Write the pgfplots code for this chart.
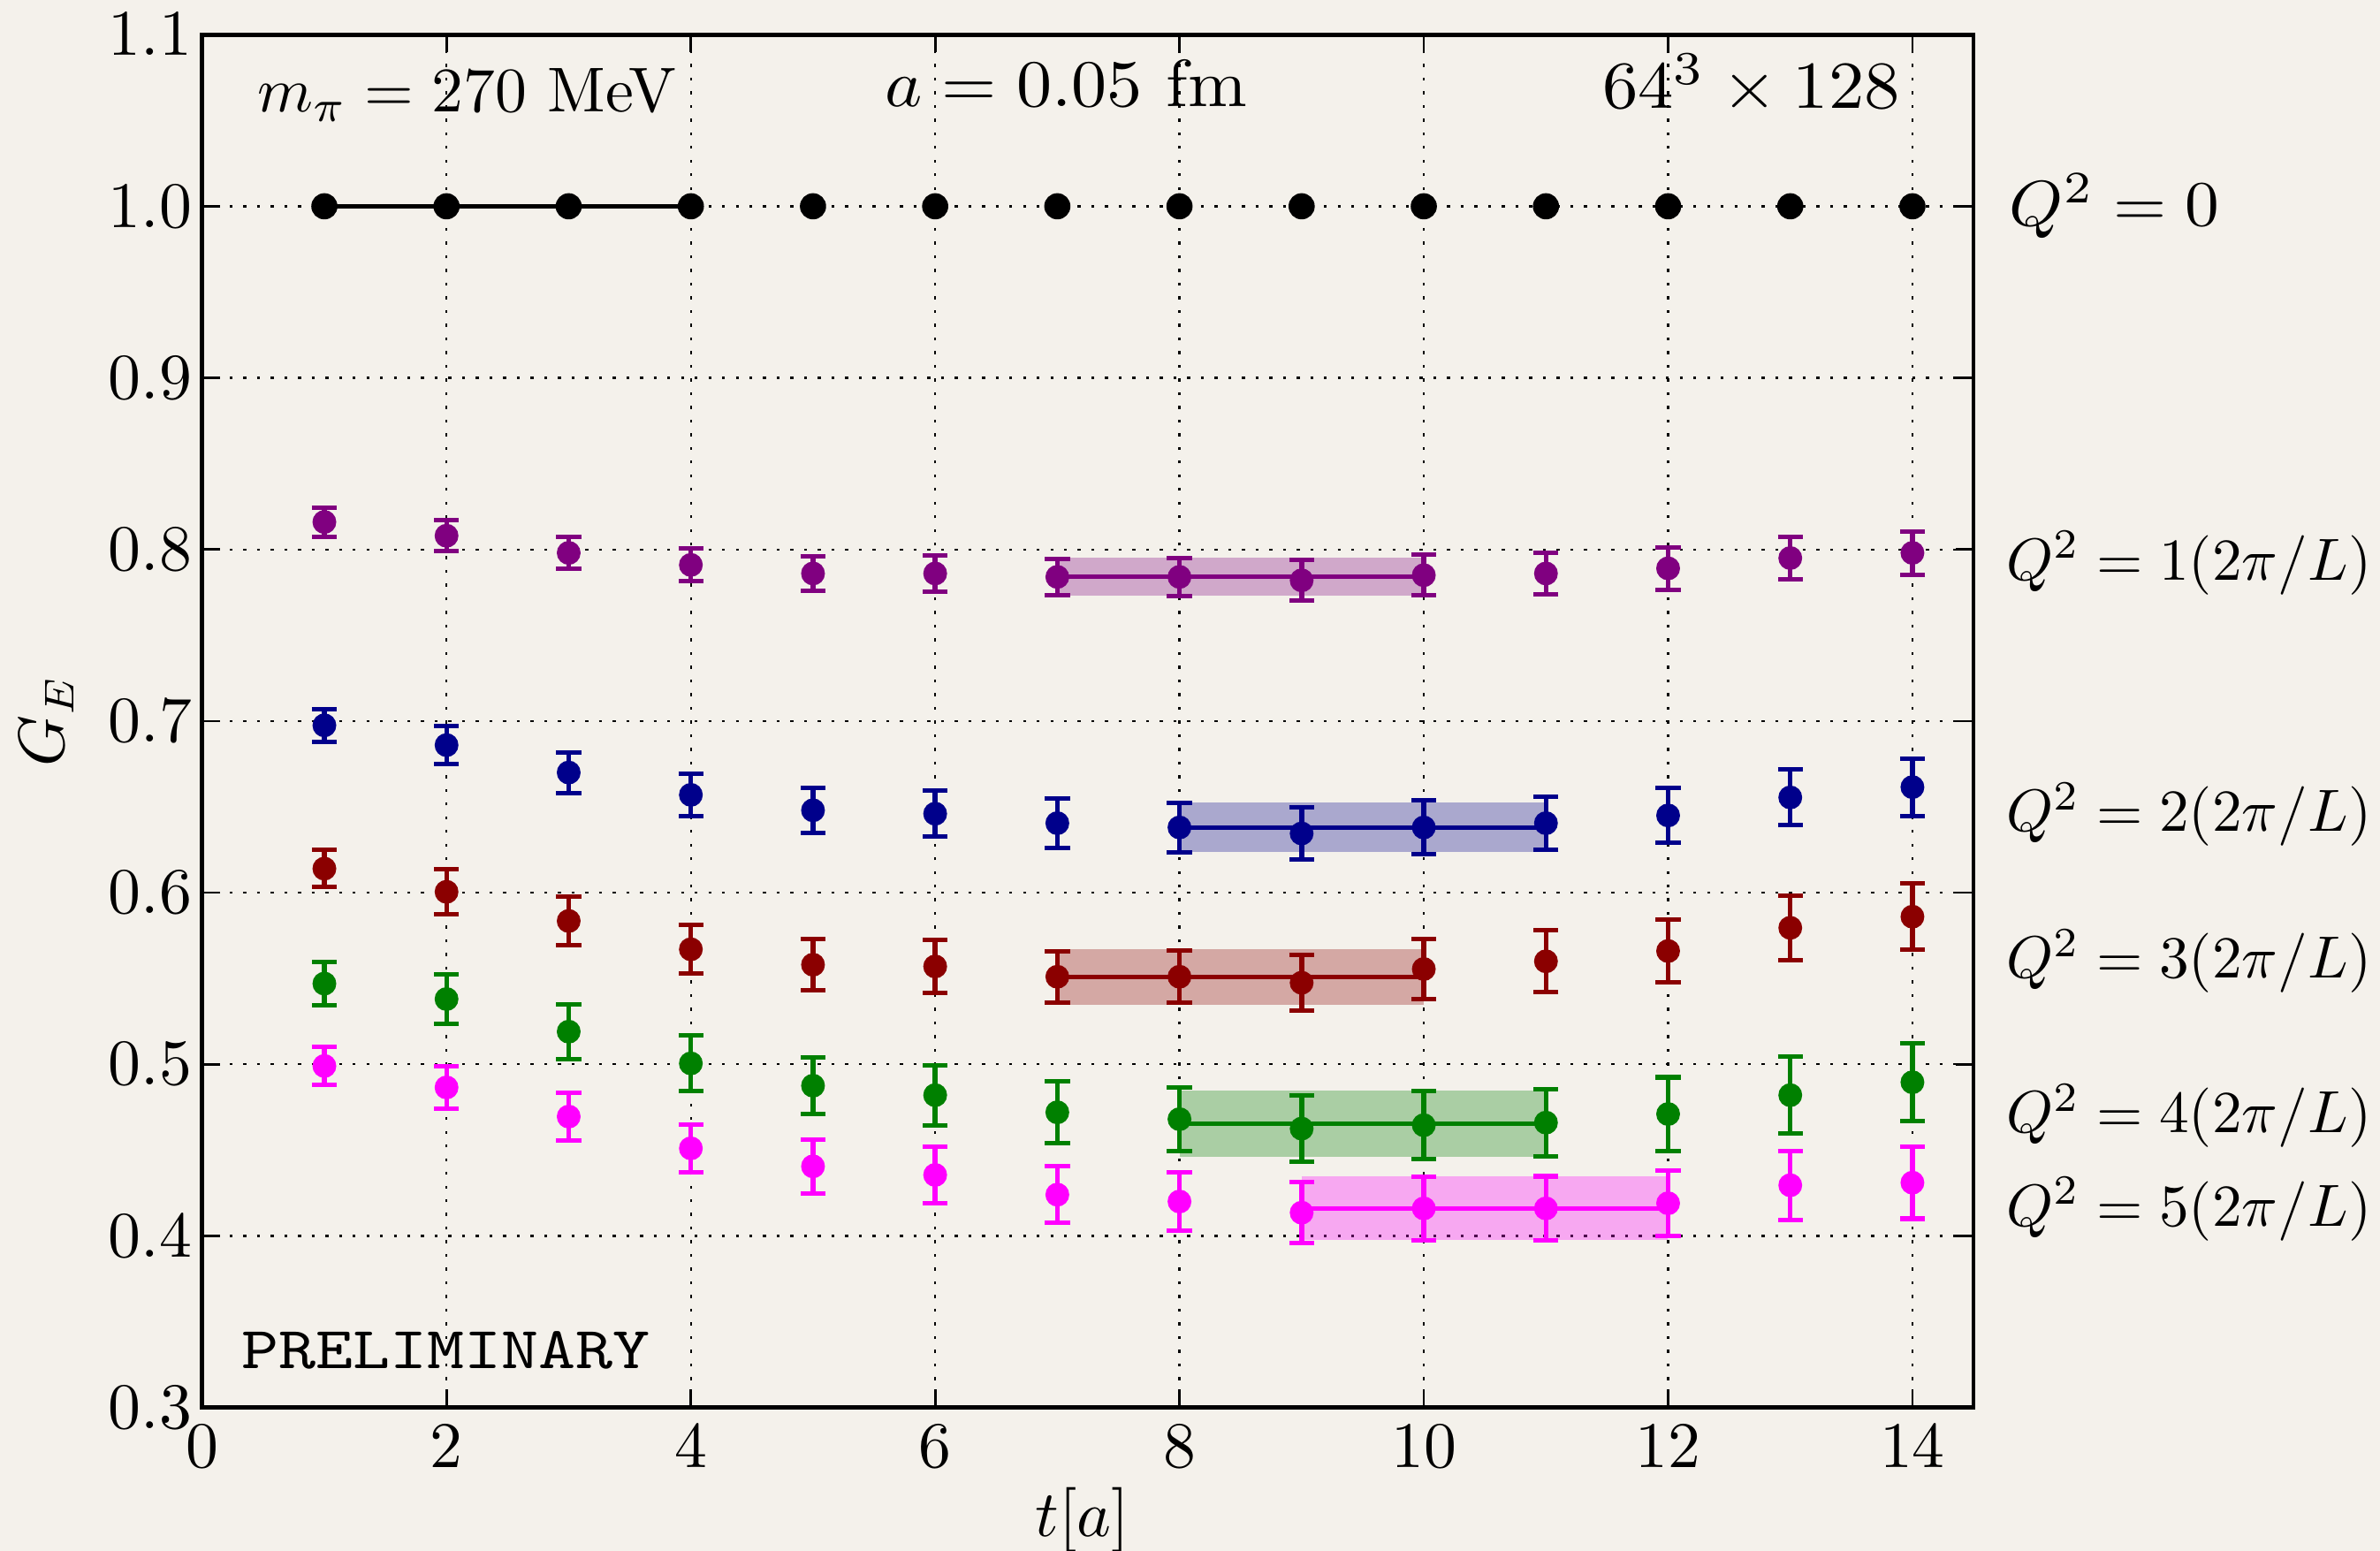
\documentclass[border=0pt]{standalone}
\usepackage{pgfplots}
\usepackage{pgfplotstable}
\pgfplotsset{compat=1.18}
\usetikzlibrary{backgrounds}

\definecolor{paper}{RGB}{244,241,235}
\definecolor{cpurple}{RGB}{128,0,128}
\definecolor{cblue}{RGB}{0,0,139}
\definecolor{cred}{RGB}{139,0,0}
\definecolor{cgreen}{RGB}{0,128,0}
\definecolor{cmag}{RGB}{255,0,255}

% t, G_E, error
\pgfplotstableread{
t v e
1 1.000 0
2 1.000 0
3 1.000 0
4 1.000 0
5 1.000 0
6 1.000 0
7 1.000 0
8 1.000 0
9 1.000 0
10 1.000 0
11 1.000 0
12 1.000 0
13 1.000 0
14 1.000 0
}\qzero
\pgfplotstableread{
t v e
1 0.816 0.0085
2 0.808 0.0090
3 0.798 0.0093
4 0.791 0.0094
5 0.786 0.0100
6 0.786 0.0105
7 0.784 0.0106
8 0.784 0.0110
9 0.782 0.0118
10 0.785 0.0118
11 0.786 0.0120
12 0.789 0.0124
13 0.795 0.0124
14 0.798 0.0126
}\qone
\pgfplotstableread{
t v e
1 0.6975 0.0096
2 0.686 0.0110
3 0.670 0.0118
4 0.657 0.0124
5 0.648 0.0133
6 0.646 0.0135
7 0.6405 0.0143
8 0.638 0.0145
9 0.6345 0.0153
10 0.638 0.0158
11 0.6405 0.0155
12 0.645 0.0160
13 0.6555 0.0163
14 0.6615 0.0167
}\qtwo
\pgfplotstableread{
t v e
1 0.614 0.0108
2 0.6005 0.0130
3 0.5835 0.0140
4 0.567 0.0143
5 0.558 0.0151
6 0.557 0.0156
7 0.551 0.0150
8 0.551 0.0152
9 0.5475 0.0162
10 0.5555 0.0173
11 0.560 0.0180
12 0.566 0.0184
13 0.5795 0.0187
14 0.586 0.0193
}\qthree
\pgfplotstableread{
t v e
1 0.547 0.0125
2 0.538 0.0143
3 0.519 0.0160
4 0.5005 0.0163
5 0.4875 0.0163
6 0.482 0.0175
7 0.472 0.0182
8 0.468 0.0185
9 0.4625 0.0191
10 0.4645 0.0197
11 0.466 0.0196
12 0.471 0.0214
13 0.482 0.0223
14 0.4895 0.0227
}\qfour
\pgfplotstableread{
t v e
1 0.499 0.0112
2 0.4865 0.0125
3 0.4695 0.0138
4 0.451 0.0140
5 0.4405 0.0158
6 0.4355 0.0167
7 0.424 0.0165
8 0.420 0.0172
9 0.4135 0.0177
10 0.416 0.0186
11 0.416 0.0187
12 0.419 0.0189
13 0.4295 0.0201
14 0.431 0.0210
}\qfive

\pgfplotsset{
  pts/.style={only marks, mark=*, mark size=1.8pt, color=#1,
    mark options={fill=#1, draw=#1, solid},
    error bars/y dir=both, error bars/y explicit,
    error bars/error bar style={line width=0.8pt, color=#1, solid},
    error bars/error mark=-,
    error bars/error mark options={rotate=90, mark size=2.1pt, line width=0.75pt, color=#1}},
  band/.style={draw=none, fill=#1, fill opacity=0.3, forget plot},
  fitline/.style={color=#1, line width=0.75pt, mark=none, solid},
}

\begin{document}
\begin{tikzpicture}
\begin{axis}[
  name=ax,
  scale only axis,
  width=297.8pt, height=230.8pt,
  xmin=0, xmax=14.5, ymin=0.3, ymax=1.1,
  xtick={0,2,...,14},
  ytick={0.3,0.4,0.5,0.6,0.7,0.8,0.9,1.0,1.1},
  ticklabel style={font=\fontsize{11}{13}\selectfont},
  yticklabel style={/pgf/number format/fixed, /pgf/number format/fixed zerofill, /pgf/number format/precision=1, xshift=1.8pt},
  xticklabel style={yshift=0.5pt},
  tick align=inside,
  xtick pos=both, ytick pos=both,
  xticklabel pos=left, yticklabel pos=left,
  major tick length=3pt,
  tick style={black, line width=0.4pt},
  minor tick num=0,
  axis line style={black, line width=0.7pt},
  grid=major,
  major grid style={black, line width=0.35pt, dash pattern=on 0.5pt off 1.8pt},
  xlabel={$t[a]$},
  ylabel={$G_E$},
  label style={font=\fontsize{10.5}{12}\selectfont},
  xlabel style={at={(axis description cs:0.497,-0.082)}, anchor=center},
  ylabel style={at={(axis description cs:-0.088,0.5)}, anchor=center, rotate=0},
  clip=false,
]
% fit bands
\addplot[band=black] coordinates {(1,0.9995) (4,0.9995) (4,1.0005) (1,1.0005)} -- cycle;
\addplot[band=cpurple] coordinates {(7,0.773) (10,0.773) (10,0.795) (7,0.795)} -- cycle;
\addplot[band=cblue] coordinates {(8,0.6235) (11,0.6235) (11,0.6525) (8,0.6525)} -- cycle;
\addplot[band=cred] coordinates {(7,0.5347) (10,0.5347) (10,0.5673) (7,0.5673)} -- cycle;
\addplot[band=cgreen] coordinates {(8,0.446) (11,0.446) (11,0.4848) (8,0.4848)} -- cycle;
\addplot[band=cmag] coordinates {(9,0.3975) (12,0.3975) (12,0.4345) (9,0.4345)} -- cycle;
% fit values
\addplot[fitline=black] coordinates {(1,1.0) (4,1.0)};
\addplot[fitline=cpurple] coordinates {(7,0.784) (10,0.784)};
\addplot[fitline=cblue] coordinates {(8,0.638) (11,0.638)};
\addplot[fitline=cred] coordinates {(7,0.551) (10,0.551)};
\addplot[fitline=cgreen] coordinates {(8,0.4654) (11,0.4654)};
\addplot[fitline=cmag] coordinates {(9,0.416) (12,0.416)};
% data
\addplot[pts=black, mark size=2pt] table[x=t, y=v, y error=e] {\qzero};
\addplot[pts=cpurple] table[x=t, y=v, y error=e] {\qone};
\addplot[pts=cblue] table[x=t, y=v, y error=e] {\qtwo};
\addplot[pts=cred] table[x=t, y=v, y error=e] {\qthree};
\addplot[pts=cgreen] table[x=t, y=v, y error=e] {\qfour};
\addplot[pts=cmag] table[x=t, y=v, y error=e] {\qfive};

% annotations
\node[anchor=base west, inner sep=0, scale=1.065] at (axis cs:0.44,1.055) {$m_\pi = 270$ MeV};
\node[anchor=base, inner sep=0, xscale=1.19, yscale=1.12] at (axis cs:7.07,1.058) {$a = 0.05$ fm};
\node[anchor=base, inner sep=0, xscale=1.2, yscale=1.13] at (axis cs:12.68,1.057) {$64^3 \times 128$};
\node[anchor=base west, inner sep=0, xscale=1.19] at (axis cs:0.31,0.3226) {\ttfamily PRELIMINARY};

\node[anchor=west, xshift=2pt, xscale=1.15, yscale=1.08] at (axis cs:14.5,1.0) {$Q^2 = 0$};
\node[anchor=west, xshift=2pt] at (axis cs:14.5,0.792) {$Q^2 = 1(2\pi/L)$};
\node[anchor=west, xshift=2pt] at (axis cs:14.5,0.6455) {$Q^2 = 2(2\pi/L)$};
\node[anchor=west, xshift=2pt] at (axis cs:14.5,0.560) {$Q^2 = 3(2\pi/L)$};
\node[anchor=west, xshift=2pt] at (axis cs:14.5,0.470) {$Q^2 = 4(2\pi/L)$};
\node[anchor=west, xshift=2pt] at (axis cs:14.5,0.4155) {$Q^2 = 5(2\pi/L)$};
\end{axis}
\begin{pgfonlayer}{background}
\fill[paper] ([shift={(-34.0pt,-24.1pt)}]ax.south west) rectangle ([shift={(68.35pt,5.84pt)}]ax.north east);
\end{pgfonlayer}
\pgfresetboundingbox
\path[use as bounding box] ([shift={(-34.0pt,-24.1pt)}]ax.south west) rectangle ([shift={(68.35pt,5.84pt)}]ax.north east);
\end{tikzpicture}
\end{document}
